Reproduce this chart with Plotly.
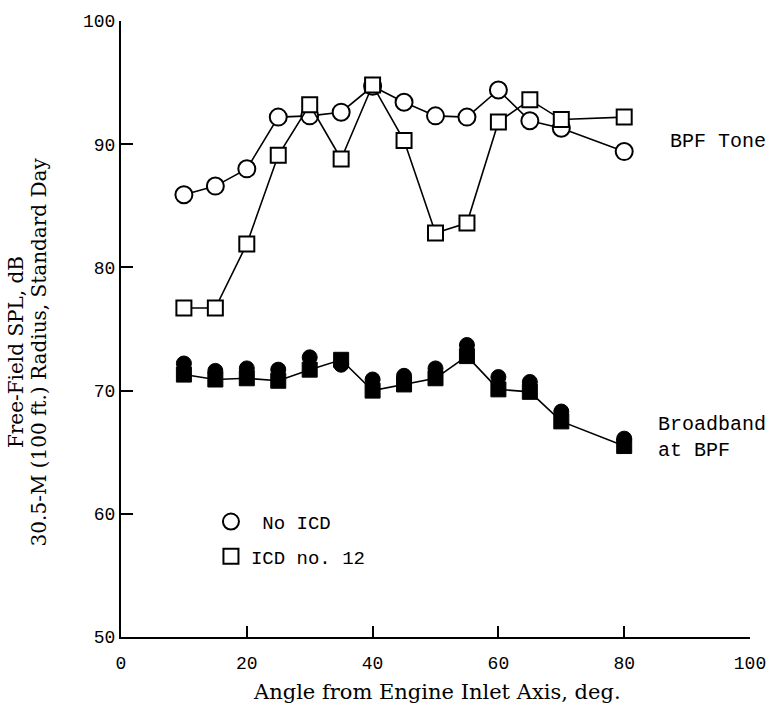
import plotly.graph_objects as go

angles = [10, 15, 20, 25, 30, 35, 40, 45, 50, 55, 60, 65, 70, 80]

tone_no_icd = [85.9, 86.6, 88.0, 92.2, 92.3, 92.6, 94.7, 93.4, 92.3, 92.2, 94.4, 91.9, 91.3, 89.4]
tone_icd12 = [76.7, 76.7, 81.9, 89.1, 93.2, 88.8, 94.8, 90.3, 82.8, 83.6, 91.8, 93.6, 92.0, 92.2]

bb_no_icd = [72.2, 71.6, 71.8, 71.7, 72.7, 72.1, 70.9, 71.2, 71.8, 73.7, 71.1, 70.7, 68.3, 66.1]
bb_icd12 = [71.3, 70.9, 71.0, 70.8, 71.7, 72.5, 70.0, 70.5, 71.0, 72.8, 70.1, 69.9, 67.5, 65.5]

x_ticks = [0, 20, 40, 60, 80, 100]
y_ticks = [50, 60, 70, 80, 90, 100]

FONT = "DejaVu Serif"
MONO = "Liberation Mono"

fig = go.Figure()

# Broadband at BPF (filled markers)
fig.add_trace(go.Scatter(
    x=angles, y=bb_icd12, mode="lines+markers",
    line=dict(color="black", width=1.6),
    marker=dict(symbol="square", size=15, color="black", line=dict(color="black", width=1)),
    showlegend=False))
fig.add_trace(go.Scatter(
    x=angles, y=bb_no_icd, mode="markers",
    marker=dict(symbol="circle", size=15, color="black", line=dict(color="black", width=1)),
    showlegend=False))

# BPF tone
fig.add_trace(go.Scatter(
    x=angles, y=tone_no_icd, mode="lines+markers", showlegend=False,
    line=dict(color="black", width=1.6),
    marker=dict(symbol="circle", size=17, color="white", line=dict(color="black", width=2))))
fig.add_trace(go.Scatter(
    x=angles, y=tone_icd12, mode="lines+markers", showlegend=False,
    line=dict(color="black", width=1.6),
    marker=dict(symbol="square", size=15, color="white", line=dict(color="black", width=2))))

# legend entries (marker only)
fig.add_trace(go.Scatter(
    x=[None], y=[None], mode="markers", name="\u00a0No ICD", legendgroup="a",
    marker=dict(symbol="circle", size=17, color="white", line=dict(color="black", width=2))))
fig.add_trace(go.Scatter(
    x=[None], y=[None], mode="markers", name="ICD no. 12", legendgroup="b",
    marker=dict(symbol="square", size=15, color="white", line=dict(color="black", width=2))))

fig.update_layout(
    width=778, height=712,
    margin=dict(l=121, r=26, t=17, b=75),
    paper_bgcolor="white", plot_bgcolor="white",
    font=dict(family=FONT, color="black", size=16),
    showlegend=True,
    legend=dict(x=0.143, y=0.218, xanchor="left", yanchor="top",
                font=dict(family=MONO, size=19, color="black"),
                tracegroupgap=7, traceorder="grouped",
                bgcolor="rgba(0,0,0,0)"),
    xaxis=dict(range=[0, 100], tickvals=x_ticks, ticks="inside", ticklen=11, tickwidth=2,
               tickcolor="black", showline=True, linecolor="black", linewidth=2,
               showgrid=False, zeroline=False, ticklabelstandoff=8,
               tickfont=dict(family=MONO, size=18)),
    yaxis=dict(range=[50, 100], tickvals=y_ticks, ticks="inside", ticklen=12, tickwidth=2,
               tickcolor="black", showline=True, linecolor="black", linewidth=2,
               showgrid=False, zeroline=False,
               tickfont=dict(family=MONO, size=18)),
)

fig.add_annotation(text="Angle from Engine Inlet Axis, deg.", xref="paper", yref="paper",
                   x=0.502, y=-0.089, xanchor="center", yanchor="middle", showarrow=False,
                   font=dict(family=FONT, size=21))
fig.add_annotation(text="Free-Field SPL, dB", xref="paper", yref="paper",
                   x=-0.168, y=0.463, xanchor="center", yanchor="middle", showarrow=False,
                   textangle=-90, font=dict(family=FONT, size=20))
fig.add_annotation(text="30.5-M (100 ft.) Radius, Standard Day", xref="paper", yref="paper",
                   x=-0.131, y=0.463, xanchor="center", yanchor="middle", showarrow=False,
                   textangle=-90, font=dict(family=FONT, size=20))
fig.add_annotation(text="BPF Tone", x=87, y=90.2, xanchor="left", yanchor="middle",
                   showarrow=False, font=dict(family=MONO, size=20))
fig.add_annotation(text="Broadband<br>at BPF", x=85.1, y=66.2, xanchor="left", yanchor="middle",
                   align="left", showarrow=False, font=dict(family=MONO, size=20))

fig.write_html("out.html", config={"displayModeBar": False},
               post_script="document.body.style.margin='0';")
